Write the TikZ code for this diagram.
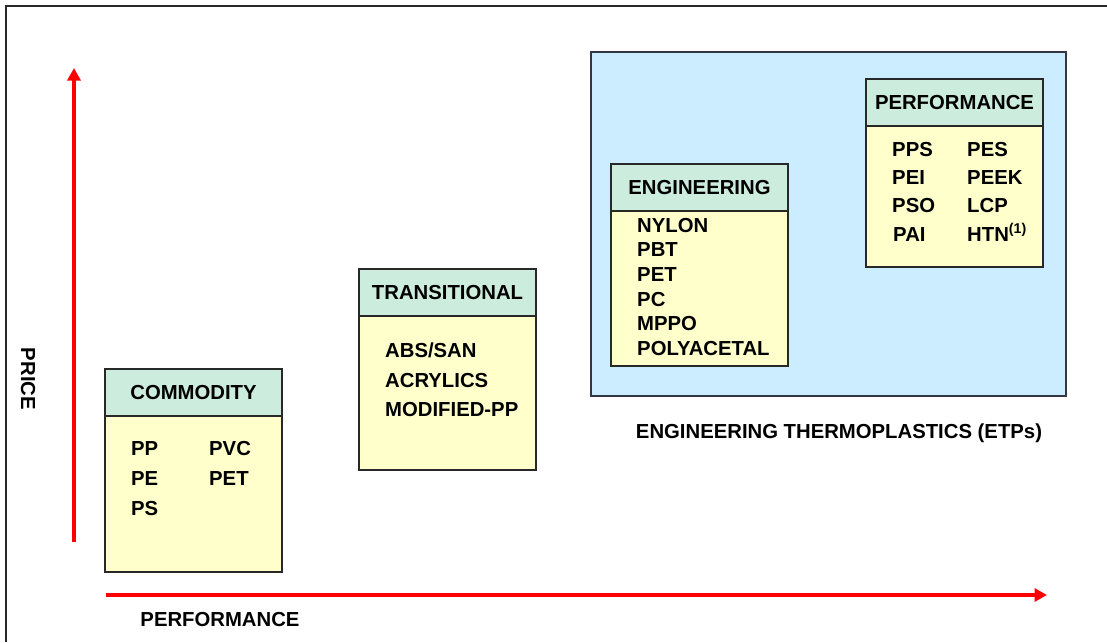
\documentclass[tikz,border=0pt]{standalone}
\usepackage{fontspec}
\setmainfont{Liberation Sans}
\usetikzlibrary{arrows.meta,positioning}

\definecolor{headgreen}{RGB}{204,236,222}
\definecolor{bodyyellow}{RGB}{255,255,204}
\definecolor{etpblue}{RGB}{204,236,255}
\definecolor{framegray}{RGB}{40,40,40}
\definecolor{etpgray}{RGB}{50,55,65}

\newcommand{\lblfont}{\fontsize{20.3}{24}\selectfont\bfseries}

\tikzset{
	grphead/.style={draw=framegray, fill=headgreen, line width=1.4pt, outer sep=0pt, inner sep=0pt,
		minimum width=177pt, minimum height=47pt, anchor=north west, font=\lblfont},
	grpbody/.style={draw=framegray, fill=bodyyellow, line width=1.4pt, outer sep=0pt, inner sep=0pt,
		minimum width=177pt, anchor=north west},
	grpitem/.style={anchor=west, inner sep=0pt, text height=14pt, text depth=0pt, font=\lblfont},
	axislbl/.style={inner sep=0pt, font=\lblfont},
	axisarrow/.style={red, line width=4pt, -{Triangle[length=12.5pt 0 0,width=13pt 0 0]}}
}

\begin{document}
\begin{tikzpicture}[x=1pt,y=1pt]

	%%Location
	\useasboundingbox (0,0) rectangle (1107,-642);
	\draw[framegray, line width=2pt] (6,-642) -- (6,-6) -- (1107,-6);

	%%ETP area
	\node[draw=etpgray, fill=etpblue, line width=1.6pt, outer sep=0pt, anchor=north west,
		minimum width=475pt, minimum height=344pt] (etp) at (591,-52) {};
	\node[axislbl] (etplbl) at (839,-433) {ENGINEERING THERMOPLASTICS (ETPs)};

	%%axis
	\coordinate (pricetail) at (74,-542);
	\coordinate (pricetip) at (74,-68);
	\coordinate (perftail) at (106,-595);
	\coordinate (perftip) at (1047,-595);
	\draw[axisarrow] (pricetail) -- (pricetip);
	\draw[axisarrow] (perftail) -- (perftip);
	\node[axislbl, rotate=-90] (pricelbl) at (28,-379) {PRICE};
	\node[axislbl] (perflbl) at (220,-620) {PERFORMANCE};

	%%Commodity
	\node[grphead] (comhead) at (105,-369) {COMMODITY};
	\node[grpbody, minimum height=156pt] (combody) at (comhead.south west) {};
	\node[grpitem] (pp) at (131,-448) {PP};
	\node[grpitem] (pe) at (131,-478) {PE};
	\node[grpitem] (ps) at (131,-508) {PS};
	\node[grpitem] (pvc) at (209,-448) {PVC};
	\node[grpitem] (compet) at (209,-478) {PET};

	%%Transitional
	\node[grphead] (trahead) at (359,-269) {TRANSITIONAL};
	\node[grpbody, minimum height=154pt] (trabody) at (trahead.south west) {};
	\node[grpitem] (abssan) at (385,-350) {ABS/SAN};
	\node[grpitem] (acryl) at (385,-380) {ACRYLICS};
	\node[grpitem] (modpp) at (385,-409) {MODIFIED-PP};

	%%Engineering
	\node[grphead] (enghead) at (611,-164) {ENGINEERING};
	\node[grpbody, minimum height=155pt] (engbody) at (enghead.south west) {};
	\node[grpitem] (nylon) at (637,-225) {NYLON};
	\node[grpitem] (pbt) at (637,-249) {PBT};
	\node[grpitem] (engpet) at (637,-274) {PET};
	\node[grpitem] (pc) at (637,-299) {PC};
	\node[grpitem] (mppo) at (637,-323) {MPPO};
	\node[grpitem] (pacetal) at (637,-348) {POLYACETAL};

	%%Performance
	\node[grphead] (prfhead) at (866,-79) {PERFORMANCE};
	\node[grpbody, minimum height=141pt] (prfbody) at (prfhead.south west) {};
	\node[grpitem] (pps) at (892,-149) {PPS};
	\node[grpitem] (pei) at (892,-177) {PEI};
	\node[grpitem] (pso) at (892,-205) {PSO};
	\node[grpitem] (pai) at (893,-234) {PAI};
	\node[grpitem] (pes) at (967,-149) {PES};
	\node[grpitem] (peek) at (967,-177) {PEEK};
	\node[grpitem] (lcp) at (967,-205) {LCP};
	\node[grpitem] (htn) at (967,-234) {HTN\textsuperscript{(1)}};

\end{tikzpicture}
\end{document}
